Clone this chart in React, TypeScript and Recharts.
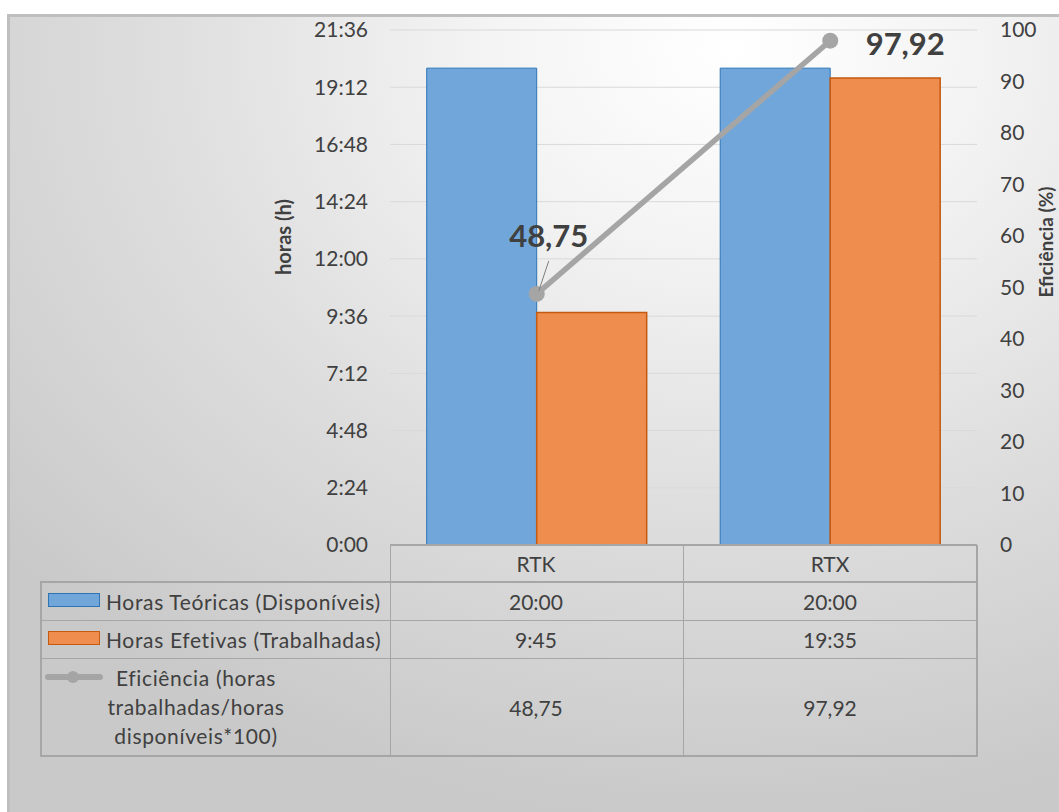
import React from "react";
import { ComposedChart, Bar, Line, XAxis, YAxis, CartesianGrid, LabelList } from "recharts";

const categories = ["RTK", "RTX"];
const horasTeoricas = [20, 20]; // horas decimais
const horasEfetivas = [9.75, 19.5833];
const eficiencia = [48.75, 97.92];
const hourTicks = [0, 2.4, 4.8, 7.2, 9.6, 12, 14.4, 16.8, 19.2, 21.6];
const pctTicks = [0, 10, 20, 30, 40, 50, 60, 70, 80, 90, 100];

const FONT = "Lato, 'Open Sans', sans-serif";
const TEXT = "#404040";
const LINE_GREY = "#A5A5A5";
const TABLE_LINE = "#A6A6A6";

function formatHours(v: number) {
  const h = Math.floor(v + 1e-6);
  const m = Math.round((v - h) * 60);
  return `${h}:${String(m).padStart(2, "0")}`;
}

function formatPct(v: number) {
  return v.toFixed(2).replace(".", ",");
}

const data = categories.map((name, i) => ({
  name,
  teoricas: horasTeoricas[i],
  efetivas: horasEfetivas[i],
  eficiencia: eficiencia[i],
}));

// label placement per point (style only)
const labelOffsets = [
  { dx: 12, dy: -59, leader: true },
  { dx: 75, dy: 2, leader: false },
];

function EffLabel(props: any) {
  const { x, y, value, index } = props;
  const off = labelOffsets[index] || { dx: 0, dy: -20, leader: false };
  return (
    <g>
      {off.leader && (
        <line x1={x + 12} y1={y - 33} x2={x + 2} y2={y - 3} stroke="#7f7f7f" strokeWidth={1} />
      )}
      <text
        x={x + off.dx}
        y={y + off.dy}
        textAnchor="middle"
        dominantBaseline="central"
        fill={TEXT}
        fontFamily={FONT}
        fontWeight={700}
        fontSize={31}
      >
        {formatPct(value)}
      </text>
    </g>
  );
}

const hLines = [
  { y: 544, x1: 390, x2: 977, w: 2 },
  { y: 581, x1: 41, x2: 977, w: 2 },
  { y: 620, x1: 41, x2: 977, w: 1 },
  { y: 658, x1: 41, x2: 977, w: 1 },
  { y: 755, x1: 41, x2: 977, w: 2 },
];
const vLines = [
  { x: 40, y1: 581, y2: 757, w: 2 },
  { x: 390, y1: 545, y2: 757, w: 1 },
  { x: 683, y1: 545, y2: 757, w: 1 },
  { x: 976, y1: 545, y2: 757, w: 2 },
];
const colCenters = [536, 830];

const cellText: React.CSSProperties = {
  position: "absolute",
  fontFamily: FONT,
  fontSize: 21,
  color: TEXT,
  lineHeight: "29px",
  whiteSpace: "nowrap",
};

const legendText: React.CSSProperties = { ...cellText, letterSpacing: "0.65px" };

const axisTitle: React.CSSProperties = {
  position: "absolute",
  transform: "translate(-50%, -50%) rotate(-90deg)",
  fontFamily: FONT,
  fontSize: 20,
  fontWeight: 700,
  lineHeight: "20px",
  color: TEXT,
  whiteSpace: "nowrap",
};

function DataTable() {
  const rows = [
    { y: 601, values: horasTeoricas.map(formatHours) },
    { y: 639, values: horasEfetivas.map(formatHours) },
    { y: 707, values: eficiencia.map(formatPct) },
  ];
  return (
    <>
      {hLines.map((l, i) => (
        <div key={`h${i}`} style={{ position: "absolute", left: l.x1, top: l.y, width: l.x2 - l.x1, height: l.w, background: TABLE_LINE }} />
      ))}
      {vLines.map((l, i) => (
        <div key={`v${i}`} style={{ position: "absolute", left: l.x, top: l.y1, width: l.w, height: l.y2 - l.y1, background: TABLE_LINE }} />
      ))}
      {categories.map((c, i) => (
        <div key={c} style={{ ...cellText, left: colCenters[i] - 100, width: 200, textAlign: "center", top: 563 - 14.5 }}>
          {c}
        </div>
      ))}
      {rows.map((r, ri) =>
        r.values.map((v, ci) => (
          <div key={`${ri}-${ci}`} style={{ ...cellText, left: colCenters[ci] - 100, width: 200, textAlign: "center", top: r.y - 14.5 }}>
            {v}
          </div>
        ))
      )}
      {/* legend keys */}
      <div style={{ position: "absolute", left: 48, top: 593, width: 50, height: 12, background: "#70A6DA", border: "1.5px solid #2E75B6" }} />
      <div style={{ ...legendText, left: 106, top: 601 - 14.5 }}>Horas Teóricas (Disponíveis)</div>
      <div style={{ position: "absolute", left: 48, top: 631, width: 50, height: 12, background: "#EE8D4D", border: "1.5px solid #C55A11" }} />
      <div style={{ ...legendText, left: 106, top: 639 - 14.5 }}>Horas Efetivas (Trabalhadas)</div>
      <div style={{ position: "absolute", left: 45, top: 674, width: 58, height: 6, borderRadius: 3, background: LINE_GREY }} />
      <div style={{ position: "absolute", left: 67, top: 671, width: 12, height: 12, borderRadius: 6, background: LINE_GREY }} />
      <div style={{ ...legendText, left: 96, width: 200, textAlign: "center", top: 677 - 14.5 }}>
        Eficiência (horas
        <br />
        trabalhadas/horas
        <br />
        disponíveis*100)
      </div>
    </>
  );
}

export default function App() {
  return (
    <div style={{ position: "absolute", left: 0, top: 0, width: 1059, height: 812, background: "#ffffff", overflow: "hidden" }}>
      <div
        style={{
          position: "absolute",
          left: 7,
          top: 14,
          width: 1060,
          height: 810,
          borderTop: "3px solid #BFBFBF",
          borderLeft: "3px solid #BFBFBF",
          background: "radial-gradient(ellipse 90% 95% at 68% 4%, #ffffff 0%, #f4f4f4 25%, #dedede 60%, #c9c9c9 100%)",
        }}
      />
      <div style={{ position: "absolute", left: 0, top: 0 }}>
        <ComposedChart
          width={1059}
          height={812}
          data={data}
          margin={{ top: 30, right: 22, bottom: 267, left: 310 }}
          barCategoryGap="12.5%"
          barGap={0}
        >
          <CartesianGrid yAxisId="left" vertical={false} stroke="#D9D9D9" strokeWidth={1} />
          <XAxis dataKey="name" hide />
          <YAxis
            yAxisId="left"
            width={80}
            domain={[0, 21.6]}
            ticks={hourTicks}
            tickFormatter={formatHours}
            axisLine={false}
            tickLine={false}
            tickSize={0}
            tickMargin={22}
            interval={0}
            tick={{ fill: TEXT, fontSize: 21, fontFamily: FONT }}
          />
          <YAxis
            yAxisId="right"
            orientation="right"
            width={60}
            domain={[0, 100]}
            ticks={pctTicks}
            axisLine={false}
            tickLine={false}
            tickSize={0}
            tickMargin={23}
            interval={0}
            tick={{ fill: TEXT, fontSize: 21, fontFamily: FONT }}
          />
          <Bar yAxisId="left" dataKey="teoricas" fill="#70A6DA" stroke="#2E75B6" strokeWidth={1} isAnimationActive={false} />
          <Bar yAxisId="left" dataKey="efetivas" fill="#EE8D4D" stroke="#C55A11" strokeWidth={1.5} isAnimationActive={false} />
          <Line
            yAxisId="right"
            dataKey="eficiencia"
            stroke={LINE_GREY}
            strokeWidth={5.5}
            dot={{ r: 8, fill: LINE_GREY, stroke: "none" }}
            activeDot={false}
            isAnimationActive={false}
          >
            <LabelList dataKey="eficiencia" content={<EffLabel />} />
          </Line>
        </ComposedChart>
      </div>
      <div style={{ ...axisTitle, left: 283, top: 237 }}>horas (h)</div>
      <div style={{ ...axisTitle, left: 1045, top: 242, fontSize: 19, lineHeight: "19px" }}>Eficiência (%)</div>
      <DataTable />
    </div>
  );
}
